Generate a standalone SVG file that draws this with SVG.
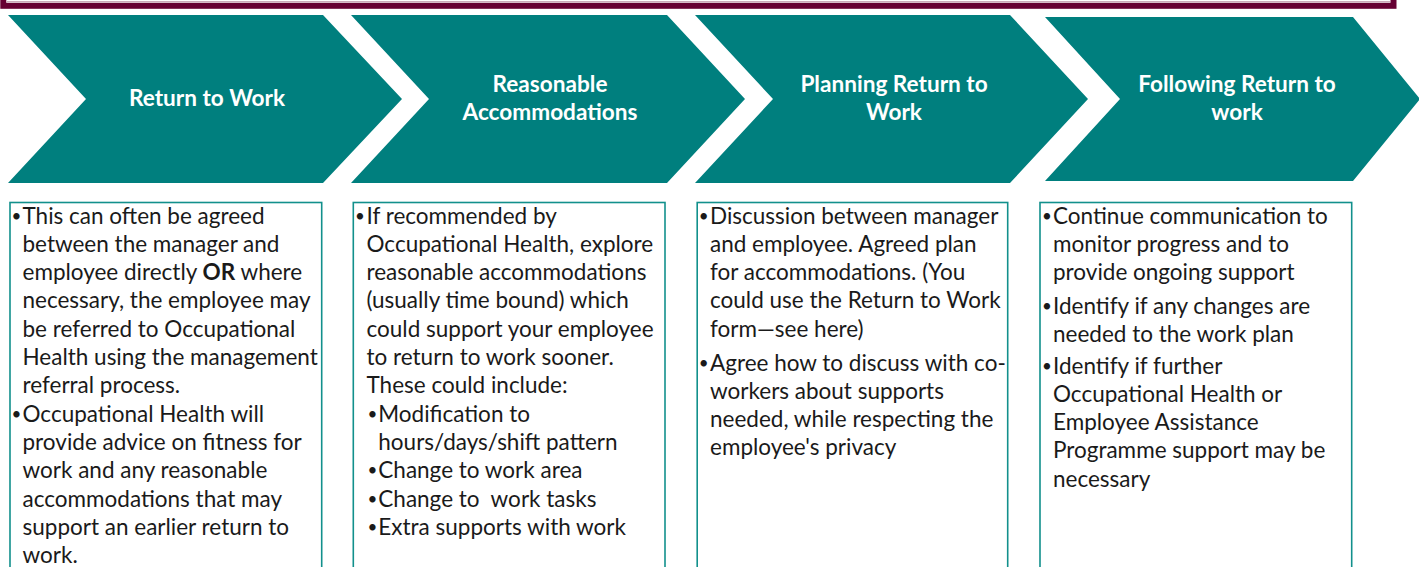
<svg xmlns="http://www.w3.org/2000/svg" width="1419" height="567" viewBox="0 0 1419 567">
<style>
.chev{fill:#007F7E}
.box{fill:#ffffff;stroke:#12908C;stroke-width:1.6}
.title{font-family:Lato,"Open Sans",sans-serif;font-weight:bold;font-size:22.6px;fill:#ffffff;text-anchor:middle}
.body{font-family:Lato,"Open Sans",sans-serif;font-size:22.5px;fill:#1a1a1a}
.bul{font-family:Lato,"Open Sans",sans-serif;font-size:17px;fill:#1a1a1a}
.b{font-weight:bold}
</style>
<rect width="1419" height="567" fill="#ffffff"/>
<g id="frame">
<line x1="7" y1="1.6" x2="1390" y2="1.6" stroke="#c9aab9" stroke-width="1.4"/>
<rect x="3.3" y="-40" width="1390.2" height="45.8" fill="none" stroke="#660033" stroke-width="6"/>
</g>
<g id="step1">
<polygon class="chev" points="8,15 323,15 402,99 323,183 8,183 86,99"/>
<text class="title" x="207" y="106">Return to Work</text>
</g>
<g id="step2">
<polygon class="chev" points="351,15 667,15 745,99 667,183 351,183 429,99"/>
<text class="title" x="550" y="92">Reasonable</text>
<text class="title" x="550" y="120">Accommodations</text>
</g>
<g id="step3">
<polygon class="chev" points="695,15 1010,15 1088,99 1010,183 695,183 773,99"/>
<text class="title" x="894" y="92">Planning Return to</text>
<text class="title" x="894" y="120">Work</text>
</g>
<g id="step4">
<polygon class="chev" points="1045,17 1353,17 1420,99 1353,181 1045,181 1120,99"/>
<text class="title" x="1237" y="92">Following Return to</text>
<text class="title" x="1237" y="120">work</text>
</g>
<g id="box1">
<rect class="box" x="10" y="202.5" width="311.7" height="380"/>
<text class="bul">
<tspan x="11.5" y="221.5">•</tspan>
<tspan x="11.5" y="419.6">•</tspan>
</text>
<text class="body">
<tspan x="22.5" y="223.5">This can often be agreed</tspan>
<tspan x="22.5" y="251.8">between the manager and</tspan>
<tspan x="22.5" y="280.1">employee directly <tspan class="b">OR</tspan> where</tspan>
<tspan x="22.5" y="308.4">necessary, the employee may</tspan>
<tspan x="22.5" y="336.7">be referred to Occupational</tspan>
<tspan x="22.5" y="365">Health using the management</tspan>
<tspan x="22.5" y="393.3">referral process.</tspan>
<tspan x="22.5" y="421.6">Occupational Health will</tspan>
<tspan x="22.5" y="449.9">provide advice on fitness for</tspan>
<tspan x="22.5" y="478.2">work and any reasonable</tspan>
<tspan x="22.5" y="506.5">accommodations that may</tspan>
<tspan x="22.5" y="534.8">support an earlier return to</tspan>
<tspan x="22.5" y="563.1">work.</tspan>
</text>
</g>
<g id="box2">
<rect class="box" x="353.3" y="202.5" width="311.7" height="380"/>
<text class="bul">
<tspan x="355" y="221.5">•</tspan>
<tspan x="367.5" y="419.6">•</tspan>
<tspan x="367.5" y="476.2">•</tspan>
<tspan x="367.5" y="504.5">•</tspan>
<tspan x="367.5" y="532.8">•</tspan>
</text>
<text class="body">
<tspan x="366.5" y="223.5">If recommended by</tspan>
<tspan x="366.5" y="251.8">Occupational Health, explore</tspan>
<tspan x="366.5" y="280.1">reasonable accommodations</tspan>
<tspan x="366.5" y="308.4">(usually time bound) which</tspan>
<tspan x="366.5" y="336.7">could support your employee</tspan>
<tspan x="366.5" y="365">to return to work sooner.</tspan>
<tspan x="366.5" y="393.3">These could include:</tspan>
<tspan x="378.3" y="421.6">Modification to</tspan>
<tspan x="378.3" y="449.9">hours/days/shift pattern</tspan>
<tspan x="378.3" y="478.2">Change to work area</tspan>
<tspan x="378.3" y="506.5">Change to&#160; work tasks</tspan>
<tspan x="378.3" y="534.8">Extra supports with work</tspan>
</text>
</g>
<g id="box3">
<rect class="box" x="697.2" y="202.5" width="310.5" height="380"/>
<text class="bul">
<tspan x="698.8" y="221.5">•</tspan>
<tspan x="698.8" y="368.5">•</tspan>
</text>
<text class="body">
<tspan x="710" y="223.5">Discussion between manager</tspan>
<tspan x="710" y="251.8">and employee. Agreed plan</tspan>
<tspan x="710" y="280.1">for accommodations. (You</tspan>
<tspan x="710" y="308.4">could use the Return to Work</tspan>
<tspan x="710" y="336.7">form—see here)</tspan>
<tspan x="710" y="370.5">Agree how to discuss with co-</tspan>
<tspan x="710" y="398.8">workers about supports</tspan>
<tspan x="710" y="427.1">needed, while respecting the</tspan>
<tspan x="710" y="455.4">employee's privacy</tspan>
</text>
</g>
<g id="box4">
<rect class="box" x="1040" y="202.5" width="311.7" height="380"/>
<text class="bul">
<tspan x="1042" y="221.5">•</tspan>
<tspan x="1042" y="311.5">•</tspan>
<tspan x="1042" y="371.5">•</tspan>
</text>
<text class="body">
<tspan x="1053" y="223.5">Continue communication to</tspan>
<tspan x="1053" y="251.8">monitor progress and to</tspan>
<tspan x="1053" y="280.1">provide ongoing support</tspan>
<tspan x="1053" y="313.5">Identify if any changes are</tspan>
<tspan x="1053" y="341.8">needed to the work plan</tspan>
<tspan x="1053" y="373.5">Identify if further</tspan>
<tspan x="1053" y="401.8">Occupational Health or</tspan>
<tspan x="1053" y="430.1">Employee Assistance</tspan>
<tspan x="1053" y="458.4">Programme support may be</tspan>
<tspan x="1053" y="486.7">necessary</tspan>
</text>
</g>
</svg>
